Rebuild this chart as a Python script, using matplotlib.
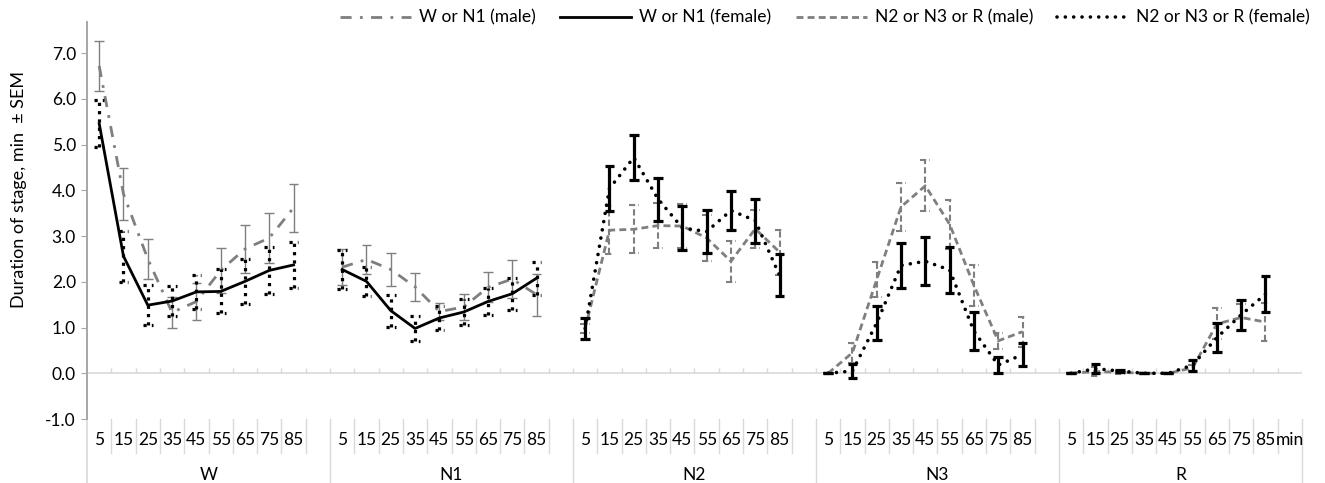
import numpy as np
import matplotlib
matplotlib.use('Agg')
import matplotlib.pyplot as plt
import matplotlib.transforms as mtransforms

plt.rcParams['font.family'] = ['Lato', 'DejaVu Sans']

times = [5, 15, 25, 35, 45, 55, 65, 75, 85]
stages = ['W', 'N1', 'N2', 'N3', 'R']

# W and N1 rows (series "W or N1")
w_male = [6.72, 3.92, 2.50, 1.33, 1.57, 2.25, 2.72, 2.96, 3.62]
w_male_err = [0.55, 0.57, 0.44, 0.33, 0.40, 0.50, 0.52, 0.55, 0.53]
w_female = [5.46, 2.56, 1.49, 1.58, 1.78, 1.79, 2.01, 2.25, 2.37]
w_female_err = [0.52, 0.56, 0.44, 0.32, 0.37, 0.48, 0.50, 0.51, 0.50]
n1_male = [2.32, 2.49, 2.27, 1.89, 1.35, 1.45, 1.88, 2.06, 1.72]
n1_male_err = [0.40, 0.32, 0.36, 0.31, 0.18, 0.29, 0.33, 0.42, 0.46]
n1_female = [2.27, 2.01, 1.37, 0.98, 1.21, 1.34, 1.57, 1.74, 2.08]
n1_female_err = [0.42, 0.32, 0.35, 0.28, 0.26, 0.28, 0.29, 0.35, 0.36]

# N2, N3 and R rows (series "N2 or N3 or R")
n2_male = [0.98, 3.13, 3.15, 3.23, 3.22, 2.96, 2.45, 3.16, 2.65]
n2_male_err = [0.10, 0.53, 0.52, 0.49, 0.48, 0.51, 0.45, 0.42, 0.49]
n2_female = [0.98, 4.04, 4.72, 3.81, 3.18, 3.10, 3.56, 3.34, 2.14]
n2_female_err = [0.24, 0.49, 0.50, 0.47, 0.48, 0.47, 0.42, 0.48, 0.46]
n3_male = [0.0, 0.45, 2.05, 3.64, 4.10, 3.26, 1.92, 0.71, 0.91]
n3_male_err = [0.0, 0.22, 0.38, 0.52, 0.56, 0.54, 0.45, 0.18, 0.33]
n3_female = [0.0, 0.05, 1.10, 2.36, 2.45, 2.26, 0.92, 0.18, 0.41]
n3_female_err = [0.0, 0.16, 0.37, 0.50, 0.53, 0.51, 0.42, 0.18, 0.26]
r_male = [0.0, 0.04, 0.02, 0.0, 0.0, 0.12, 1.08, 1.22, 1.12]
r_male_err = [0.0, 0.10, 0.04, 0.0, 0.0, 0.06, 0.34, 0.30, 0.42]
r_female = [0.0, 0.10, 0.05, 0.0, 0.0, 0.18, 0.78, 1.28, 1.73]
r_female_err = [0.0, 0.10, 0.03, 0.0, 0.0, 0.12, 0.31, 0.33, 0.40]

grey = '#7f7f7f'
light = '#d9d9d9'
fs = 12.5

fig = plt.figure(figsize=(13.25, 4.83), dpi=100)
ax = fig.add_axes([0.0657, 0.1325, 0.9169, 0.8226])


def draw(g, vals, errs, label, line_kw, err_kw):
    x = g * 10 + np.arange(len(times)) + 0.5
    v = np.array(vals)
    e = np.array(errs)
    ax.vlines(x, v - e, v + e, **err_kw)
    ax.hlines(v + e, x - 0.2, x + 0.2, **err_kw)
    ax.hlines(v - e, x - 0.2, x + 0.2, **err_kw)
    line, = ax.plot(x, v, label=label, **line_kw)
    return line


male_wn1_line = dict(color=grey, lw=2, linestyle=(0, (4, 3, 1, 3)))
male_wn1_err = dict(color=grey, lw=1)
female_wn1_line = dict(color='black', lw=2)
female_wn1_err = dict(color='black', lw=2.3, linestyles=[(0, (1, 1.6))])
male_rest_line = dict(color=grey, lw=2, linestyle=(0, (2.5, 1.5)))
male_rest_err = dict(color=grey, lw=1.5, linestyles=[(0, (3, 1.5))])
female_rest_line = dict(color='black', lw=2.6, linestyle=(0, (0.01, 2.3)),
                        dash_capstyle='round')
female_rest_err = dict(color='black', lw=2.3)

h1 = draw(0, w_male, w_male_err, 'W or N1 (male)', male_wn1_line, male_wn1_err)
draw(1, n1_male, n1_male_err, None, male_wn1_line, male_wn1_err)
h2 = draw(0, w_female, w_female_err, 'W or N1 (female)', female_wn1_line, female_wn1_err)
draw(1, n1_female, n1_female_err, None, female_wn1_line, female_wn1_err)

h3 = draw(2, n2_male, n2_male_err, 'N2 or N3 or R (male)', male_rest_line, male_rest_err)
draw(3, n3_male, n3_male_err, None, male_rest_line, male_rest_err)
draw(4, r_male, r_male_err, None, male_rest_line, male_rest_err)
h4 = draw(2, n2_female, n2_female_err, 'N2 or N3 or R (female)', female_rest_line, female_rest_err)
draw(3, n3_female, n3_female_err, None, female_rest_line, female_rest_err)
draw(4, r_female, r_female_err, None, female_rest_line, female_rest_err)

# axes styling
ax.set_xlim(0, 50)
ax.set_ylim(-1, 7.69)
yt = np.arange(-1, 8)
ax.set_yticks(yt)
ax.set_yticklabels([f'{v:.1f}' for v in yt])
ax.set_xticks([])
ax.tick_params(axis='y', length=4, color='#a6a6a6', labelsize=fs, pad=4)
for s in ['top', 'right', 'bottom']:
    ax.spines[s].set_visible(False)
ax.spines['left'].set_color('#a6a6a6')
ax.spines['left'].set_linewidth(1.4)

ax.axhline(0, color=light, lw=1.2, zorder=0)
ax.vlines(np.arange(1, 51), 0, 0.11, color=light, lw=1, zorder=0)

# category label area under the plot
trans = mtransforms.blended_transform_factory(ax.transData, fig.transFigure)
ax.plot([0, 0], [0.1325, 0], color=light, lw=1.2, transform=trans, clip_on=False)
for b in range(1, 51):
    low = 0 if b % 10 == 0 else 0.062
    ax.plot([b, b], [0.1325, low], color=light, lw=1, transform=trans, clip_on=False)
for g, st in enumerate(stages):
    for i, t in enumerate(times):
        ax.text(g * 10 + i + 0.5, 0.089, str(t), transform=trans,
                ha='center', va='center', fontsize=fs)
    ax.text(g * 10 + 5, 0.0166, st, transform=trans, ha='center', va='center', fontsize=fs)
ax.text(49.5, 0.089, 'min', transform=trans, ha='center', va='center', fontsize=fs)

fig.text(0.014, 0.607, 'Duration of stage, min  \u00b1 SEM', rotation=90,
         ha='center', va='center', fontsize=13)

fig.legend([h1, h2, h3, h4], [h.get_label() for h in [h1, h2, h3, h4]],
           ncol=4, frameon=False, loc='center right', bbox_to_anchor=(0.994, 0.963),
           handlelength=4.1, columnspacing=1.4, handletextpad=0.45, fontsize=fs,
           borderaxespad=0)

fig.savefig('out.png', dpi=100)
